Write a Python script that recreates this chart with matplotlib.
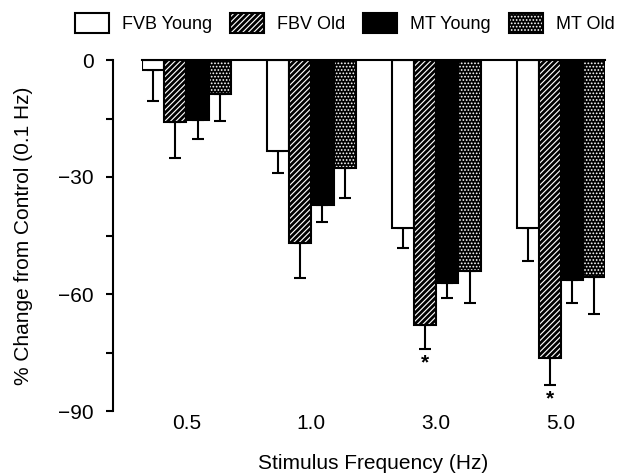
import numpy as np
import matplotlib
matplotlib.use('Agg')
import matplotlib.pyplot as plt
from matplotlib.patches import Patch
from matplotlib.legend_handler import HandlerTuple

plt.rcParams['font.family'] = ['Liberation Sans', 'DejaVu Sans']

# data
freqs = ['0.5', '1.0', '3.0', '5.0']
groups = ['FVB Young', 'FBV Old', 'MT Young', 'MT Old']
fvb_young = [-2.5, -23.4, -43.0, -43.2]
fvb_young_err = [8.0, 5.7, 5.2, 8.4]
fbv_old = [-16.0, -46.8, -68.0, -76.5]
fbv_old_err = [9.2, 9.2, 6.1, 6.8]
mt_young = [-15.5, -37.3, -57.3, -56.4]
mt_young_err = [4.7, 4.2, 3.7, 6.0]
mt_old = [-8.6, -27.8, -54.1, -55.6]
mt_old_err = [7.0, 7.7, 8.3, 9.6]
signif = [False, False, True, True]  # * under FBV Old

means = [fvb_young, fbv_old, mt_young, mt_old]
errs = [fvb_young_err, fbv_old_err, mt_young_err, mt_old_err]

fig = plt.figure(figsize=(6.2, 4.74), dpi=100)
ax = fig.add_axes([142/620, 1-411/474, (605-142)/620, (411-60)/474])

x = np.arange(len(freqs))
w = 0.178
lw = 1.5
handles = []
for i in range(4):
    xi = x + (i - 1.5) * w
    m = np.array(means[i])
    e = np.array(errs[i])
    if i == 0:
        ax.bar(xi, m, w, color='white', edgecolor='black', linewidth=lw, zorder=2)
        h = Patch(facecolor='white', edgecolor='black', linewidth=lw)
    elif i == 1:
        plt.rcParams['hatch.linewidth'] = 2.0
        ax.bar(xi, m, w, color='white', edgecolor='black', hatch='//////', linewidth=lw, zorder=2)
        h = Patch(facecolor='white', edgecolor='black', hatch='//////', linewidth=lw)
    elif i == 2:
        ax.bar(xi, m, w, color='black', edgecolor='black', linewidth=lw, zorder=2)
        h = Patch(facecolor='black', edgecolor='black', linewidth=lw)
    else:
        plt.rcParams['hatch.linewidth'] = 0.8
        ax.bar(xi, m, w, color='black', edgecolor='white', hatch='.....', linewidth=0, zorder=2)
        ax.bar(xi, m, w, fill=False, edgecolor='black', linewidth=lw, zorder=2)
        h = (Patch(facecolor='black', edgecolor='white', hatch='.....', linewidth=0),
             Patch(fill=False, edgecolor='black', linewidth=lw))
    handles.append(h)
    ax.errorbar(xi, m, yerr=[e, np.zeros_like(e)], fmt='none', ecolor='black',
                elinewidth=1.5, capsize=4.5, capthick=1.5, zorder=1)

# significance stars
for j in range(len(freqs)):
    if signif[j]:
        xs = x[j] + (1 - 1.5) * w
        ax.text(xs, fbv_old[j] - fbv_old_err[j] - 1.2, '*', ha='center', va='top',
                fontsize=15, fontweight='bold')

ax.set_xlim(-0.356, 3.352)
ax.set_ylim(-90, 0)
ax.set_yticks([0, -30, -60, -90])
ax.set_yticks([-15, -45, -75], minor=True)
ax.set_xticks(x)
ax.set_xticklabels(freqs)
ax.tick_params(axis='x', length=0, pad=2, labelsize=15)
ax.tick_params(axis='y', which='both', length=5, width=1.5, pad=8.5, labelsize=15)

ax.spines['right'].set_visible(False)
ax.spines['bottom'].set_visible(False)
ax.spines['left'].set_position(('outward', 21))
ax.spines['left'].set_linewidth(1.5)
ax.spines['top'].set_linewidth(1.5)

ax.set_ylabel('% Change from Control (0.1 Hz)', fontsize=15, labelpad=18)
ax.set_xlabel('Stimulus Frequency (Hz)', fontsize=15, labelpad=15)

leg = fig.legend(handles, groups, loc='center', bbox_to_anchor=(344.5/620, 1-23/474), ncol=4,
                 frameon=False, fontsize=13, handlelength=1.9, handleheight=1.3,
                 handletextpad=0.7, columnspacing=1.0, borderpad=0,
                 handler_map={tuple: HandlerTuple(ndivide=1, pad=0)})
# legend copies don't keep hatch width, set it again
lp = leg.get_patches()
if hasattr(lp[1], 'set_hatch_linewidth'):
    lp[1].set_hatch_linewidth(2.0)

fig.savefig('out.png', dpi=100)
